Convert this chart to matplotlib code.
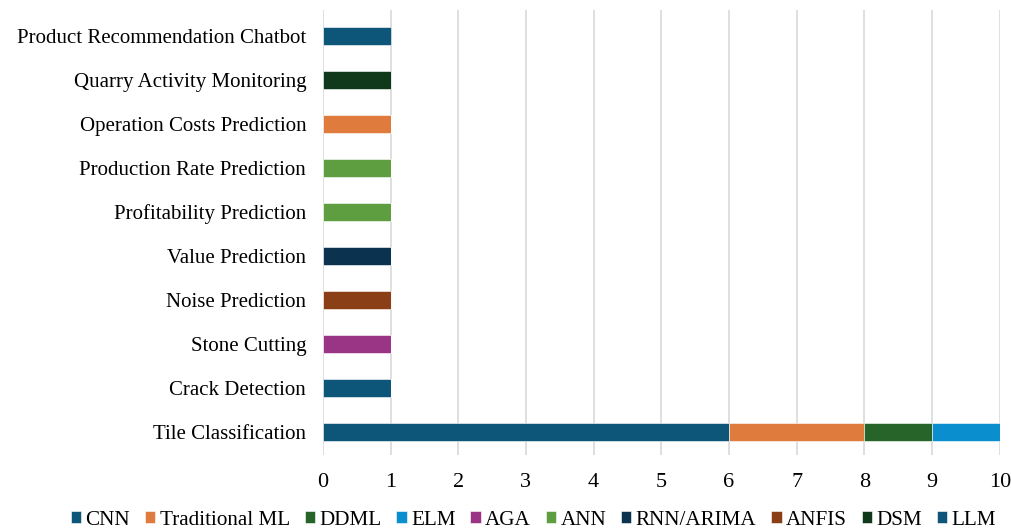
import numpy as np
import matplotlib.pyplot as plt

plt.rcParams['font.family'] = ['Liberation Serif', 'DejaVu Serif']

categories = ['Tile Classification', 'Crack Detection', 'Stone Cutting', 'Noise Prediction',
              'Value Prediction', 'Profitability Prediction', 'Production Rate Prediction',
              'Operation Costs Prediction', 'Quarry Activity Monitoring',
              'Product Recommendation Chatbot']

methods = ['CNN', 'Traditional ML', 'DDML', 'ELM', 'AGA', 'ANN', 'RNN/ARIMA', 'ANFIS', 'DSM', 'LLM']
colors = ['#0E557A', '#E07B3E', '#27642A', '#0A8ECD', '#9A3585', '#5E9E40',
          '#0B3350', '#8A3F17', '#10381A', '#0E557A']

# counts per method, in the order of categories
counts = {
    'CNN':            [6, 1, 0, 0, 0, 0, 0, 0, 0, 0],
    'Traditional ML': [2, 0, 0, 0, 0, 0, 0, 1, 0, 0],
    'DDML':           [1, 0, 0, 0, 0, 0, 0, 0, 0, 0],
    'ELM':            [1, 0, 0, 0, 0, 0, 0, 0, 0, 0],
    'AGA':            [0, 0, 1, 0, 0, 0, 0, 0, 0, 0],
    'ANN':            [0, 0, 0, 0, 0, 1, 1, 0, 0, 0],
    'RNN/ARIMA':      [0, 0, 0, 0, 1, 0, 0, 0, 0, 0],
    'ANFIS':          [0, 0, 0, 1, 0, 0, 0, 0, 0, 0],
    'DSM':            [0, 0, 0, 0, 0, 0, 0, 0, 1, 0],
    'LLM':            [0, 0, 0, 0, 0, 0, 0, 0, 0, 1],
}

fig = plt.figure(figsize=(10.12, 5.32), dpi=100)
ax = fig.add_axes([0.319, 0.145, 0.669, 0.836])

y = np.arange(len(categories))
left = np.zeros(len(categories))
for m, c in zip(methods, colors):
    vals = np.array(counts[m], dtype=float)
    ax.barh(y, vals, left=left, height=0.39, color=c, label=m,
            edgecolor='white', linewidth=0.4, zorder=3)
    left += vals

ax.set_yticks(y)
ax.set_yticklabels(categories, fontsize=15)
ax.set_xlim(0, 10)
ax.set_ylim(-0.52, 9.59)
ax.set_xticks(range(11))
ax.tick_params(axis='x', labelsize=16, length=0, pad=13)
ax.tick_params(axis='y', length=0, pad=12)
ax.grid(axis='x', color='#D9D9D9', linewidth=1.2, zorder=0)
for s in ax.spines.values():
    s.set_visible(False)

fig.legend(loc='center', bbox_to_anchor=(0.527, 0.022), ncol=10, frameon=False,
           fontsize=15.2, handlelength=0.5, handleheight=0.5, handletextpad=0.2,
           columnspacing=0.7)

fig.savefig('out.png', dpi=100)
